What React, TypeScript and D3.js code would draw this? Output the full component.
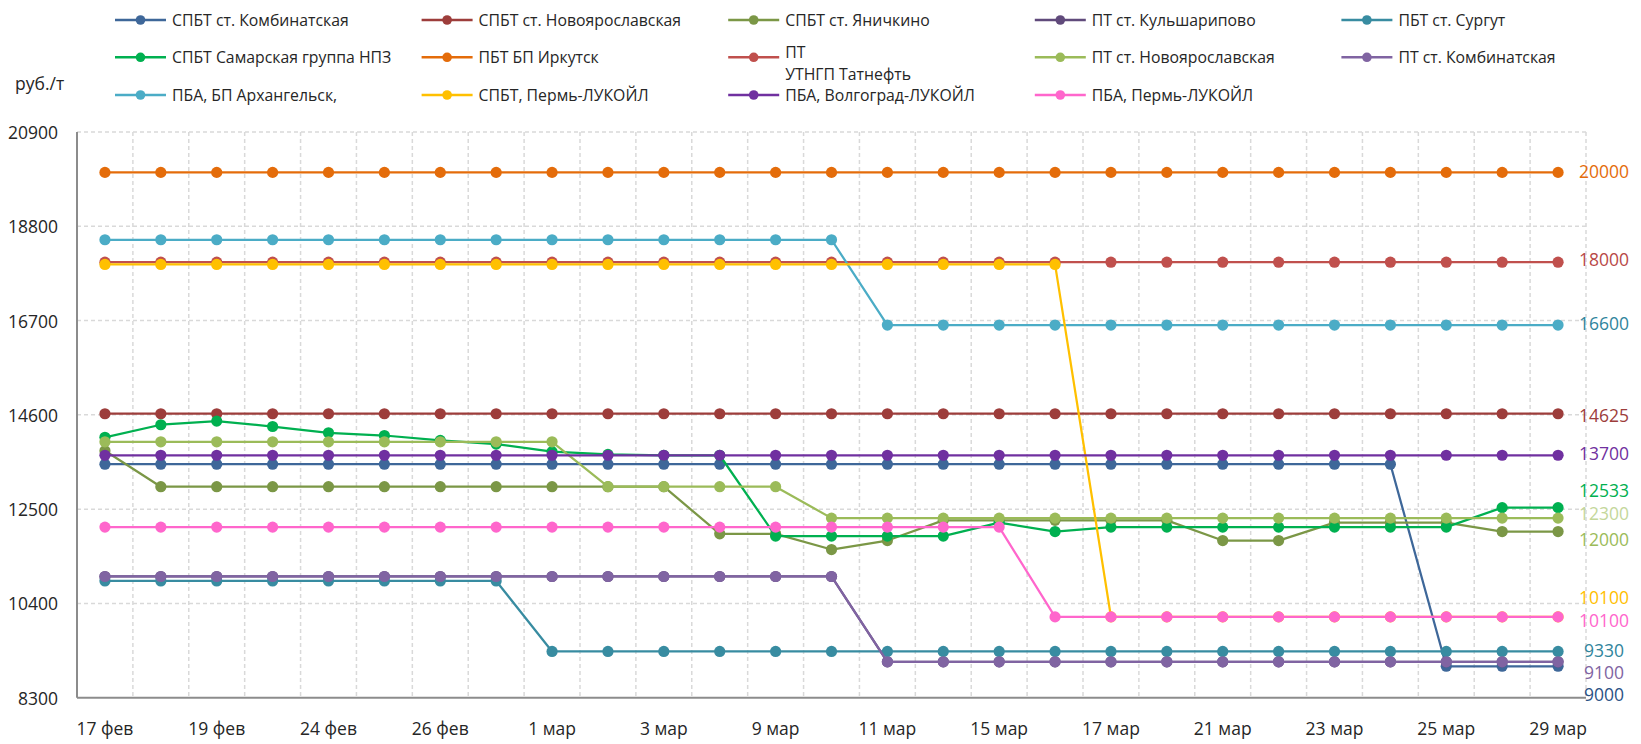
import React from 'react';
import * as d3 from 'd3';

const categories = ['17 фев','18 фев','19 фев','20 фев','24 фев','25 фев','26 фев','27 фев','1 мар','2 мар','3 мар','4 мар','9 мар','10 мар','11 мар','14 мар','15 мар','16 мар','17 мар','18 мар','21 мар','22 мар','23 мар','24 мар','25 мар','28 мар','29 мар'];
const xTickLabels = ['17 фев','19 фев','24 фев','26 фев','1 мар','3 мар','9 мар','11 мар','15 мар','17 мар','21 мар','23 мар','25 мар','29 мар'];
const yTicks = [8300, 10400, 12500, 14600, 16700, 18800, 20900];
const yUnit = 'руб./т';

const spbtKombinatskaya = [13500,13500,13500,13500,13500,13500,13500,13500,13500,13500,13500,13500,13500,13500,13500,13500,13500,13500,13500,13500,13500,13500,13500,13500,9000,9000,9000];
const spbtNovoyaroslavskaya = [14625,14625,14625,14625,14625,14625,14625,14625,14625,14625,14625,14625,14625,14625,14625,14625,14625,14625,14625,14625,14625,14625,14625,14625,14625,14625,14625];
const spbtYanichkino = [13800,13000,13000,13000,13000,13000,13000,13000,13000,13000,13000,11950,11950,11600,11800,12250,12250,12250,12250,12250,11800,11800,12200,12200,12200,12000,12000];
const ptKulsharipovo = [11000,11000,11000,11000,11000,11000,11000,11000,11000,11000,11000,11000,11000,11000,9100,9100,9100,9100,9100,9100,9100,9100,9100,9100,9100,9100,9100];
const pbtSurgut = [10900,10900,10900,10900,10900,10900,10900,10900,9330,9330,9330,9330,9330,9330,9330,9330,9330,9330,9330,9330,9330,9330,9330,9330,9330,9330,9330];
const spbtSamara = [14100,14380,14460,14340,14200,14140,14030,13950,13780,13720,13700,13700,11900,11900,11900,11900,12200,12000,12100,12100,12100,12100,12100,12100,12100,12533,12533];
const pbtIrkutsk = [20000,20000,20000,20000,20000,20000,20000,20000,20000,20000,20000,20000,20000,20000,20000,20000,20000,20000,20000,20000,20000,20000,20000,20000,20000,20000,20000];
const ptTatneft = [18000,18000,18000,18000,18000,18000,18000,18000,18000,18000,18000,18000,18000,18000,18000,18000,18000,18000,18000,18000,18000,18000,18000,18000,18000,18000,18000];
const ptNovoyaroslavskaya = [14000,14000,14000,14000,14000,14000,14000,14000,14000,13000,13000,13000,13000,12300,12300,12300,12300,12300,12300,12300,12300,12300,12300,12300,12300,12300,12300];
const ptKombinatskaya = [11000,11000,11000,11000,11000,11000,11000,11000,11000,11000,11000,11000,11000,11000,9100,9100,9100,9100,9100,9100,9100,9100,9100,9100,9100,9100,9100];
const pbaArkhangelsk = [18500,18500,18500,18500,18500,18500,18500,18500,18500,18500,18500,18500,18500,18500,16600,16600,16600,16600,16600,16600,16600,16600,16600,16600,16600,16600,16600];
const spbtPerm = [17950,17950,17950,17950,17950,17950,17950,17950,17950,17950,17950,17950,17950,17950,17950,17950,17950,17950,10100,10100,10100,10100,10100,10100,10100,10100,10100];
const pbaVolgograd = [13700,13700,13700,13700,13700,13700,13700,13700,13700,13700,13700,13700,13700,13700,13700,13700,13700,13700,13700,13700,13700,13700,13700,13700,13700,13700,13700];
const pbaPerm = [12100,12100,12100,12100,12100,12100,12100,12100,12100,12100,12100,12100,12100,12100,12100,12100,12100,10100,10100,10100,10100,10100,10100,10100,10100,10100,10100];

const seriesNames = ['СПБТ ст. Комбинатская','СПБТ ст. Новоярославская','СПБТ ст. Яничкино','ПТ ст. Кульшарипово','ПБТ ст. Сургут','СПБТ Самарская группа НПЗ','ПБТ БП Иркутск','ПТ\nУТНГП Татнефть','ПТ ст. Новоярославская','ПТ ст. Комбинатская','ПБА, БП Архангельск,','СПБТ, Пермь-ЛУКОЙЛ','ПБА, Волгоград-ЛУКОЙЛ','ПБА, Пермь-ЛУКОЙЛ'];
const seriesValues = [spbtKombinatskaya, spbtNovoyaroslavskaya, spbtYanichkino, ptKulsharipovo, pbtSurgut, spbtSamara, pbtIrkutsk, ptTatneft, ptNovoyaroslavskaya, ptKombinatskaya, pbaArkhangelsk, spbtPerm, pbaVolgograd, pbaPerm];
const seriesColors = ['#3E6799','#9D3D3B','#7B9746','#604A7B','#388CA1','#00B050','#E46C0A','#C0504D','#9BBB59','#8064A2','#4BACC6','#FFC000','#7030A0','#FF66CC'];
// end labels: colour and vertical nudge (px) per series; null = no label
const endLabelColors = ['#2A5285','#9D3D3B','#9BBB59',null,'#31859C','#00B050','#E46C0A','#B84846','#C4D79B','#8064A2','#31859C','#FFC000','#7030A0','#FF66CC'];
const endLabelNudge = [28,1,7.5,0,-1.5,-18,-1.5,-3,-5,10,-2,-19.5,-2,3.5];

const W = 1641, H = 744;
const left = 77, right = 1586, top = 132, bottom = 697.7;
const FONT = "'Segoe UI', 'Open Sans', sans-serif";

export default function App() {
  const x = d3.scaleBand<string>().domain(categories).range([left, right]).paddingInner(0).paddingOuter(0);
  const bw = x.bandwidth();
  const cx = (i: number) => (x(categories[i]) as number) + bw / 2;
  const y = d3.scaleLinear().domain([8300, 20900]).range([bottom, top]);
  const line = d3.line<number>().x((_, i) => cx(i)).y(d => y(d));

  const legendX0 = 172, legendDX = 306.6;
  const legendY = [20, 57.3, 95];

  return (
    <svg width={W} height={H} style={{ position: 'absolute', left: 0, top: 0, display: 'block', background: '#fff' }} fontFamily={FONT}>
      {/* grid */}
      {yTicks.filter(t => t !== 8300).map(t => (
        <line key={'gy' + t} x1={left} x2={right} y1={y(t)} y2={y(t)} stroke="#D9D9D9" strokeWidth={1.5} strokeDasharray="4,3" />
      ))}
      {categories.map((c, i) => (
        <line key={'gx' + i} x1={(x(c) as number) + bw} x2={(x(c) as number) + bw} y1={top} y2={bottom} stroke="#D9D9D9" strokeWidth={1.5} strokeDasharray="4,3" />
      ))}
      {/* axes */}
      <line x1={left} x2={left} y1={top} y2={bottom} stroke="#8C8C8C" strokeWidth={2} />
      <line x1={left} x2={right} y1={bottom} y2={bottom} stroke="#8C8C8C" strokeWidth={2} />
      {yTicks.map(t => (
        <text key={'yt' + t} x={58} y={y(t)} textAnchor="end" dominantBaseline="central" fontSize={17.5} fill="#262626">{t}</text>
      ))}
      {categories.map((c, i) => xTickLabels.includes(c) && i % 2 === 0 ? (
        <text key={'xt' + i} x={cx(i)} y={728} textAnchor="middle" dominantBaseline="central" fontSize={17.5} fill="#262626">{c}</text>
      ) : null)}
      <text x={15} y={82.7} dominantBaseline="central" fontSize={17.5} fill="#262626">{yUnit}</text>

      {/* series */}
      {seriesValues.map((vals, s) => (
        <g key={'s' + s}>
          <path d={line(vals) || ''} fill="none" stroke={seriesColors[s]} strokeWidth={2.25} strokeLinejoin="round" />
          {vals.map((v, i) => (
            <circle key={i} cx={cx(i)} cy={y(v)} r={5.6} fill={seriesColors[s]} />
          ))}
        </g>
      ))}

      {/* end labels */}
      {seriesValues.map((vals, s) => endLabelColors[s] ? (
        <text key={'el' + s} x={1604} y={y(vals[vals.length - 1]) + endLabelNudge[s]} textAnchor="middle" dominantBaseline="central" fontSize={17.5} fill={endLabelColors[s] as string}>{vals[vals.length - 1]}</text>
      ) : null)}

      {/* legend */}
      {seriesNames.map((name, s) => {
        const row = Math.floor(s / 5), col = s % 5;
        const tx = legendX0 + col * legendDX, ty = legendY[row];
        const lines = name.split('\n');
        const multi = lines.length > 1;
        return (
          <g key={'lg' + s}>
            <line x1={tx - 57} x2={tx - 6} y1={ty} y2={ty} stroke={seriesColors[s]} strokeWidth={2.5} />
            <circle cx={tx - 31.5} cy={ty} r={4.8} fill={seriesColors[s]} />
            {lines.map((ln, k) => (
              <text key={k} x={tx} y={multi ? ty - 5.5 + k * 21.8 : ty} dominantBaseline="central" fontSize={15.8} fill="#262626">{ln}</text>
            ))}
          </g>
        );
      })}
    </svg>
  );
}
